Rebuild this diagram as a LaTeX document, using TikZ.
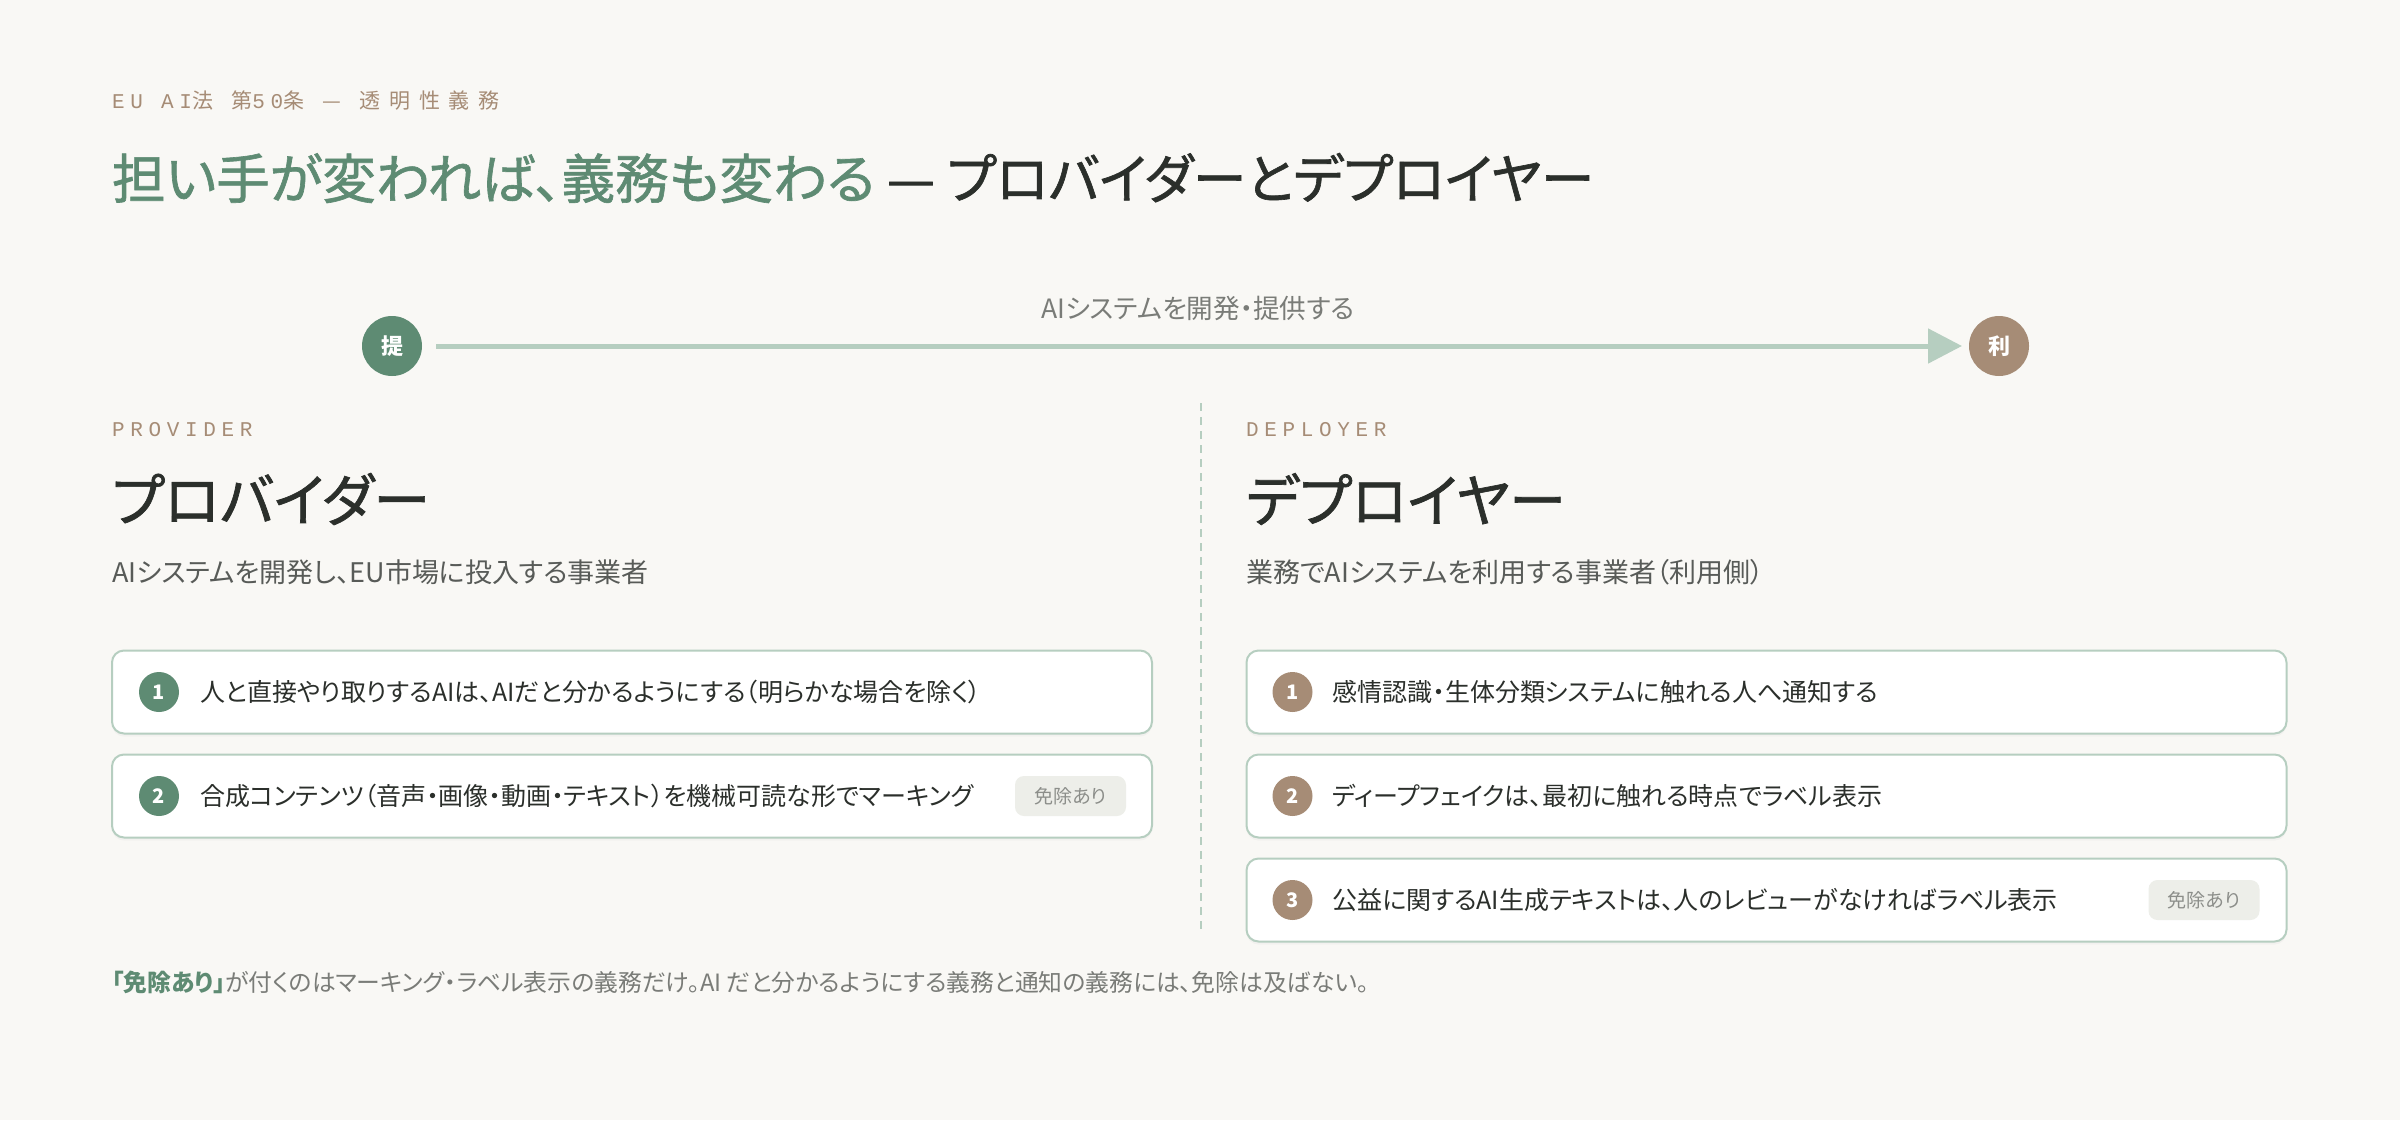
\documentclass[tikz,border=0pt]{standalone}
\usepackage{fontspec}
\setmainfont{Noto Sans CJK JP}[RawFeature=+palt]
\newfontfamily\headfont{Noto Sans CJK JP}[RawFeature=+palt,FakeBold=1.2]
\newfontfamily\monolab{Liberation Mono}[LetterSpace=27]
\newfontfamily\jalab{Noto Sans CJK JP}[LetterSpace=42]
\usetikzlibrary{positioning,arrows.meta,shadows}
\definecolor{pagebg}{HTML}{F9F8F5}
\definecolor{sage}{HTML}{5E8B73}
\definecolor{clay}{HTML}{A68C76}
\definecolor{ink}{HTML}{2B2F2B}
\definecolor{greytext}{HTML}{585B58}
\definecolor{softgrey}{HTML}{7A7C78}
\definecolor{rulecol}{HTML}{B6CEC0}
\definecolor{badgebg}{HTML}{EDEEE9}
\definecolor{badgetext}{HTML}{8C8E8A}
\newcommand\fsz[1]{\fontsize{#1}{#1}\selectfont}

\begin{document}
\begin{tikzpicture}[x=1pt,y=-1pt,every node/.style={inner sep=0pt,outer sep=0pt},
  kicker/.style={anchor=west,text=clay,font=\fsz{21}},
  heading/.style={anchor=west,text=ink,font=\headfont\fsz{57}},
  blurb/.style={anchor=west,text=greytext,font=\fsz{27}},
  card/.style={draw=rulecol,line width=2pt,fill=white,rounded corners=12pt,minimum width=1040pt,minimum height=83pt,drop shadow={shadow xshift=0pt,shadow yshift=-3pt,opacity=0.05}},
  numA/.style={circle,fill=sage,minimum size=40pt,text=white,font=\fsz{20}\bfseries},
  numB/.style={numA,fill=clay},
  itemtext/.style={text=ink,font=\fsz{25}},
  badge/.style={fill=badgebg,rounded corners=9pt,minimum width=111pt,minimum height=40pt,text=badgetext,font=\fsz{19}}]

\path[use as bounding box,fill=pagebg] (0,0) rectangle (2400,1120);

%%%%%%%%%%%%%%%%%%%%%% HEADER

\node[kicker] (kick) at (112,101) {{\monolab EU AI}{\jalab 法}{\monolab{} }{\jalab 第}{\monolab 50}{\jalab 条}{\monolab{} }{\jalab —}{\monolab{} }{\jalab 透明性義務}};
\node[anchor=west,text=ink,font=\headfont\fsz{53.6}] (title) at (112,178) {{\color{sage}担い手が変われば、義務も変わる} — プロバイダーとデプロイヤー};

%%%%%%%%%%%%%%%%%%%%%% FLOW

\node[numA,minimum size=60pt,font=\fsz{22}\bfseries] (prov) at (392,346) {提};
\node[numB,minimum size=60pt,font=\fsz{22}\bfseries] (depl) at (1999,346) {利};
\draw[line width=5pt,rulecol,-{Triangle[length=34pt,width=34pt]},shorten <=14pt,shorten >=7pt] (prov) -- (depl);
\node[text=softgrey,font=\fsz{26.6}] (flowlab) at (1198,308) {AIシステムを開発・提供する};

\coordinate (divtop) at (1201,403);
\coordinate (divbot) at (1201,929);
\draw[rulecol,line width=1.5pt,dash pattern=on 8pt off 6pt] (divtop) -- (divbot);

%%%%%%%%%%%%%%%%%%%%%% PROVIDER

\node[kicker] (provtag) at (112,430) {\monolab PROVIDER};
\node[heading] (provhead) at (112,499) {プロバイダー};
\node[blurb] (provdesc) at (112,572) {AIシステムを開発し、EU市場に投入する事業者};

\node[card] (p1) at (632,692) {};
\node[numA,right=27pt of p1.west] (p1n) {1};
\node[itemtext,right=21pt of p1n] (p1t) {人と直接やり取りするAIは、AIだと分かるようにする（明らかな場合を除く）};

\node[card] (p2) at (632,796) {};
\node[numA,right=27pt of p2.west] (p2n) {2};
\node[itemtext,right=21pt of p2n] (p2t) {合成コンテンツ（音声・画像・動画・テキスト）を機械可読な形でマーキング};
\node[badge,left=26pt of p2.east] (p2b) {免除あり};

%%%%%%%%%%%%%%%%%%%%%% DEPLOYER

\node[kicker] (depltag) at (1246,430) {\monolab DEPLOYER};
\node[heading] (deplhead) at (1246,499) {デプロイヤー};
\node[blurb] (depldesc) at (1246,572) {業務でAIシステムを利用する事業者（利用側）};

\node[card] (d1) at (1766.5,692) {};
\node[numB,right=26pt of d1.west] (d1n) {1};
\node[itemtext,right=20pt of d1n] (d1t) {感情認識・生体分類システムに触れる人へ通知する};

\node[card] (d2) at (1766.5,796) {};
\node[numB,right=26pt of d2.west] (d2n) {2};
\node[itemtext,right=20pt of d2n] (d2t) {ディープフェイクは、最初に触れる時点でラベル表示};

\node[card] (d3) at (1766.5,900) {};
\node[numB,right=26pt of d3.west] (d3n) {3};
\node[itemtext,right=20pt of d3n] (d3t) {公益に関するAI生成テキストは、人のレビューがなければラベル表示};
\node[badge,left=27pt of d3.east] (d3b) {免除あり};

%%%%%%%%%%%%%%%%%%%%%% NOTE

\node[anchor=west,text=softgrey,font=\fsz{23.8}] (note) at (112,982) {{\color{sage}\bfseries 「免除あり」}が付くのはマーキング・ラベル表示の義務だけ。AI だと分かるようにする義務と通知の義務には、免除は及ばない。};

\end{tikzpicture}
\end{document}
